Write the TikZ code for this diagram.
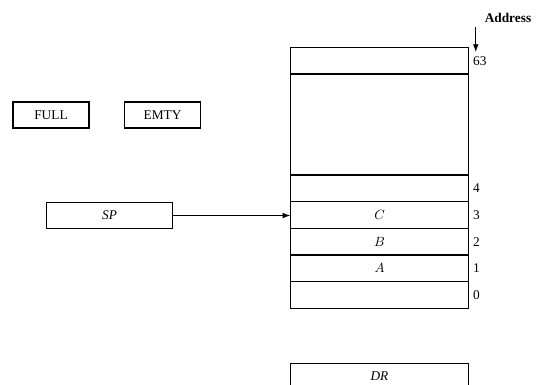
\documentclass[tikz,border=0pt]{standalone}
\usepackage{fontspec}
\setmainfont{Liberation Serif}
\usetikzlibrary{arrows.meta, positioning}
\tikzset{
    cell/.style={draw, thick, minimum width=134pt, minimum height=20pt, inner sep=0pt, outer sep=0pt},
    flag/.style={draw, thick, minimum width=57pt, minimum height=19.5pt, inner sep=0pt, font=\normalsize},
    reg/.style={draw, semithick, minimum width=95pt, minimum height=20pt, inner sep=0pt, font=\normalsize\itshape},
    addr/.style={right, font=\normalsize, inner sep=3pt},
    ptr/.style={-Latex, semithick}
}

\begin{document}
\begin{tikzpicture}[x=0.75pt, y=-0.75pt]
    \useasboundingbox (0,0) rectangle (539,385);
    \clip (0,0) rectangle (539,385);

    % Флаги
    \node[flag] (full) at (51,115) {FULL};
    \node[flag] (emty) at (162.5,115) {EMTY};

    % Стек (память 64 слова)
    \node[cell] (m0) at (379.5,295) {};
    \node[cell, above=0pt of m0] (m1) {$A$};
    \node[cell, above=0pt of m1] (m2) {$B$};
    \node[cell, above=0pt of m2] (m3) {$C$};
    \node[cell, above=0pt of m3] (m4) {};
    \node[cell, minimum height=75.75pt, above=0pt of m4] (free) {};
    \node[cell, above=0pt of free] (m63) {};

    % Адреса
    \node[addr] (a0) at (m0.east) {0};
    \node[addr] (a1) at (m1.east) {1};
    \node[addr] (a2) at (m2.east) {2};
    \node[addr] (a3) at (m3.east) {3};
    \node[addr] (a4) at (m4.east) {4};
    \node[addr] (a63) at (m63.east) {63};
    \node[font=\normalsize\bfseries] (head) at (508,18) {Address};
    \draw[ptr] (head.south -| a63.north) ++(-4,0) coordinate (h) -- (h |- a63.north);

    % Указатель стека
    \node[reg] (sp) at (109.5,215.5) {SP};
    \draw[ptr] (sp.east) -- (sp.east -| m3.west);

    % Регистр данных
    \node[reg, minimum width=134pt] (dr) at (379.5,376.5) {DR};
\end{tikzpicture}
\end{document}
